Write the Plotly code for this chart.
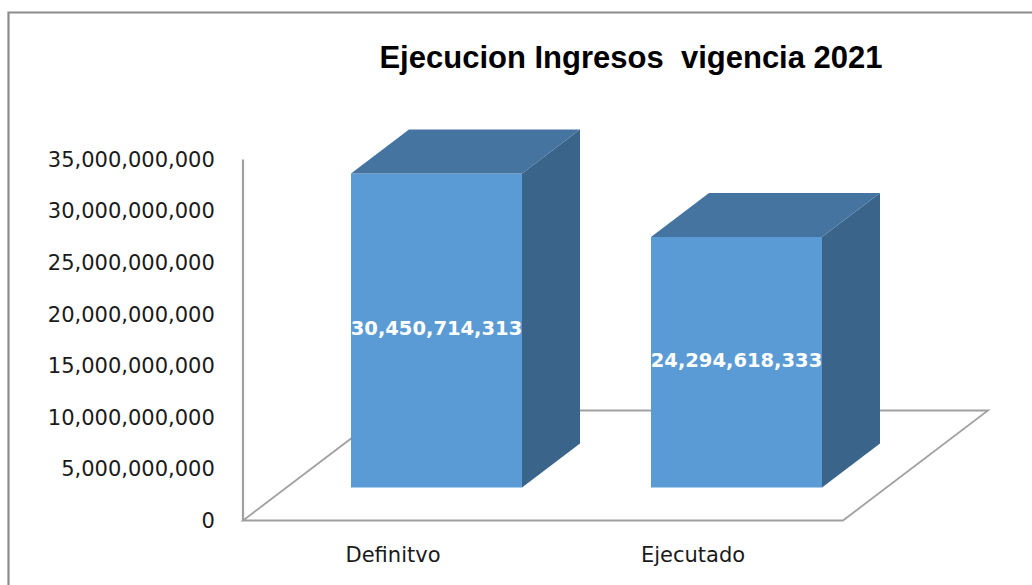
import plotly.graph_objects as go

# ---- data ----
categories = ["Definitvo", "Ejecutado"]
values = [30450714313, 24294618333]
y_ticks = [0, 5_000_000_000, 10_000_000_000, 15_000_000_000,
           20_000_000_000, 25_000_000_000, 30_000_000_000, 35_000_000_000]
title_text = "Ejecucion Ingresos\u00a0 vigencia 2021"

# ---- page / projection geometry ----
W, H = 1032, 585
M_L, M_R, M_T, M_B = 236, 20, 100, 55
plot_w = W - M_L - M_R
plot_h = H - M_T - M_B

PX_CAT = 300.0              # pixels per category step
PX_VAL = 361.0 / 35e9       # pixels per value unit
X0_PX = 243.0               # pixel column of the floor's front-left corner
Y0_PX = 520.5               # pixel row of value 0 on the front plane

x_range = [(M_L - X0_PX) / PX_CAT - 0.5, (W - M_R - X0_PX) / PX_CAT - 0.5]
y_range = [-(H - M_B - Y0_PX) / PX_VAL, (Y0_PX - M_T) / PX_VAL]

# oblique depth of the floor, expressed in axis units
DEPTH_X = 145.0 / PX_CAT
DEPTH_Y = 110.0 / PX_VAL
BAR_FRONT, BAR_BACK = 0.3, 0.7   # fraction of the floor depth
HALF_W = 0.285                   # half bar width (category units)

FRONT = "#5B9BD5"
TOP = "#44749F"
SIDE = "#3A6489"
EDGE = "#A0A0A0"


def px_to_paper_x(px):
    return (px - M_L) / plot_w


def px_to_paper_y(py):
    return (H - M_B - py) / plot_h


fig = go.Figure()

n = len(categories)
fx = [i + BAR_FRONT * DEPTH_X for i in range(n)]
fbase = BAR_FRONT * DEPTH_Y
ddx = (BAR_BACK - BAR_FRONT) * DEPTH_X
ddy = (BAR_BACK - BAR_FRONT) * DEPTH_Y

# front faces
fig.add_trace(go.Bar(
    x=fx, y=values, base=[fbase] * n, width=2 * HALF_W,
    marker=dict(color=FRONT, line=dict(width=0)),
    hoverinfo="skip",
))

# top and side faces of each block
for xc, v in zip(fx, values):
    xl, xr = xc - HALF_W, xc + HALF_W
    top = fbase + v
    fig.add_trace(go.Scatter(
        x=[xr, xr, xr + ddx, xr + ddx, xr],
        y=[fbase, top, top + ddy, fbase + ddy, fbase],
        mode="lines", fill="toself", fillcolor=SIDE,
        line=dict(width=0, color=SIDE), hoverinfo="skip",
    ))
    fig.add_trace(go.Scatter(
        x=[xl, xr, xr + ddx, xl + ddx, xl],
        y=[top, top, top + ddy, top + ddy, top],
        mode="lines", fill="toself", fillcolor=TOP,
        line=dict(width=0, color=TOP), hoverinfo="skip",
    ))

# value labels in the middle of the front faces
fig.add_trace(go.Scatter(
    x=fx, y=[fbase + v / 2 for v in values],
    mode="text", text=[f"{v:,}" for v in values],
    textposition="middle center",
    textfont=dict(family="DejaVu Sans", size=19.5, color="white", weight="bold"),
    hoverinfo="skip",
))

# floor and vertical axis line
x_left, x_right = -0.5, n - 0.5
shapes = [
    dict(type="path", xref="x", yref="y", layer="below",
         path=(f"M {x_left},0 L {x_right},0 L {x_right + DEPTH_X},{DEPTH_Y} "
               f"L {x_left + DEPTH_X},{DEPTH_Y} Z"),
         line=dict(color=EDGE, width=1.8), fillcolor="white"),
    dict(type="line", xref="x", yref="y", layer="below",
         x0=x_left, x1=x_left, y0=0, y1=y_ticks[-1],
         line=dict(color=EDGE, width=2.2)),
    # chart frame
    dict(type="rect", xref="paper", yref="paper",
         x0=px_to_paper_x(8.5), x1=px_to_paper_x(W + 10),
         y0=px_to_paper_y(H + 10), y1=px_to_paper_y(12.5),
         line=dict(color="#8C8C8C", width=2.2), fillcolor="rgba(0,0,0,0)"),
]

fig.update_layout(
    width=W, height=H,
    margin=dict(l=M_L, r=M_R, t=M_T, b=M_B, pad=0),
    paper_bgcolor="white", plot_bgcolor="white",
    showlegend=False,
    shapes=shapes,
    title=dict(
        text=title_text, xref="paper", yref="container",
        x=px_to_paper_x(631), xanchor="center",
        y=1 - 57 / H, yanchor="middle",
        font=dict(family="Liberation Sans", size=31, color="black", weight="bold"),
    ),
    xaxis=dict(
        type="linear", range=x_range, tickmode="array",
        tickvals=list(range(n)), ticktext=categories,
        ticks="outside", ticklen=6, tickcolor="rgba(0,0,0,0)",
        showgrid=False, zeroline=False, showline=False,
        tickfont=dict(family="DejaVu Sans", size=21, color="#1A1A1A"),
        fixedrange=True,
    ),
    yaxis=dict(
        range=y_range, tickmode="array", tickvals=y_ticks,
        tickformat=",d",
        ticks="outside", ticklen=16, tickcolor="rgba(0,0,0,0)",
        showgrid=False, zeroline=False, showline=False,
        tickfont=dict(family="DejaVu Sans", size=21, color="#1A1A1A"),
        fixedrange=True,
    ),
)

fig.write_html("out.html")
